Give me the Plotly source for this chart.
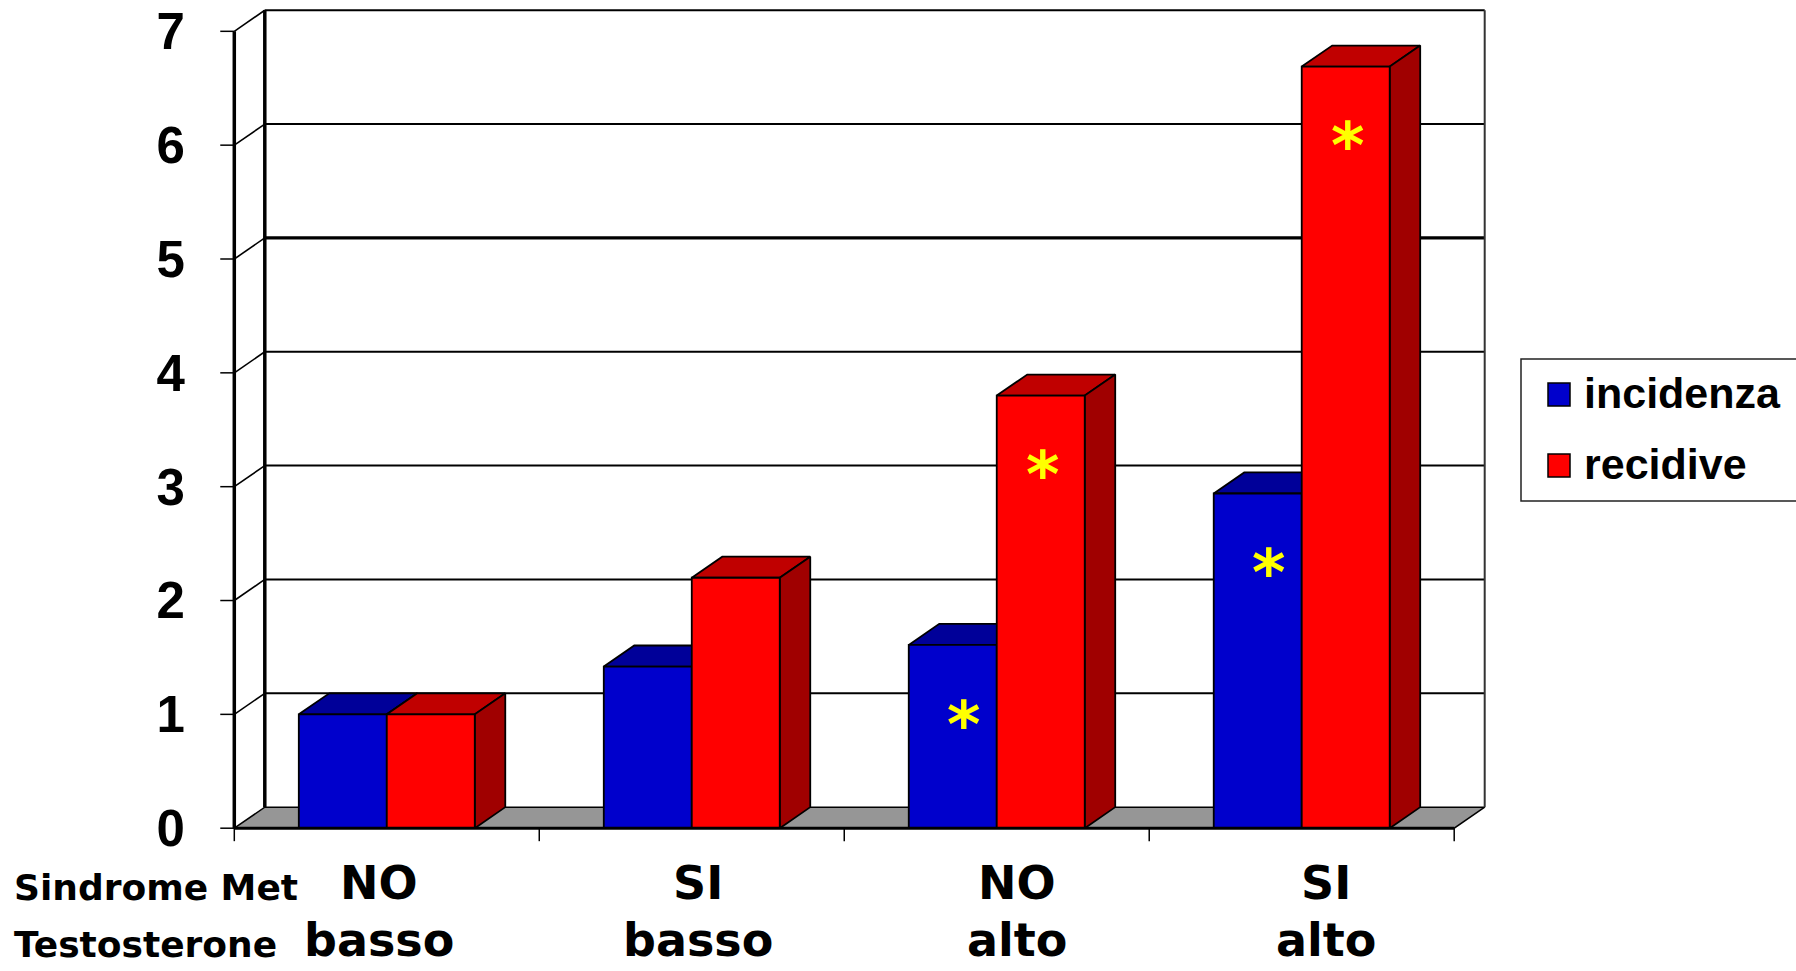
import plotly.graph_objects as go

# ---- data -------------------------------------------------------------
sindrome_met = ["NO", "SI", "NO", "SI"]
testosterone = ["basso", "basso", "alto", "alto"]
incidenza = [1.0, 1.42, 1.61, 2.94]
recidive = [1.0, 2.2, 3.8, 6.69]
sig_incidenza = [False, False, True, True]
sig_recidive = [False, False, True, True]
y_ticks = [0, 1, 2, 3, 4, 5, 6, 7]
series_names = ["incidenza", "recidive"]

# ---- geometry / style -------------------------------------------------
W, H = 1796, 971
L, R, T, B = 216, 293, 4, 128
PW, PH = W - L - R, H - T - B
X_RANGE = [-0.06, 4.16]
Y_RANGE = [-0.13, 7.24]
DX, DY = 0.1, 0.185          # depth of the 3D box in axis units
BAR_W = 0.2885               # width of one bar (category = 1)
TICK_X = 0.046
TICK_Y = 0.114

FRONT = ["#0000CC", "#FF0000"]
TOP = ["#000099", "#C00000"]
SIDE = ["#000080", "#A00000"]
FLOOR = "#969696"
LABEL_XSHIFT = [-8, 6, 20, 24]
STAR_XSHIFT = [11, 2]


def xp(px):
    return (px - L) / PW


def yp(py):
    return (H - B - py) / PH


fig = go.Figure()


def line(xs, ys, width=2, color="black"):
    fig.add_trace(go.Scatter(x=xs, y=ys, mode="lines",
                             line=dict(color=color, width=width),
                             hoverinfo="skip", showlegend=False))


def poly(xs, ys, fill, width=1.8):
    fig.add_trace(go.Scatter(x=xs + [xs[0]], y=ys + [ys[0]], mode="lines",
                             fill="toself", fillcolor=fill,
                             line=dict(color="black", width=width),
                             hoverinfo="skip", showlegend=False))


n = len(sindrome_met)
top_v = y_ticks[-1]

# floor
poly([0, n, n + DX, DX], [0, 0, DY, DY], FLOOR, width=1.5)

# back wall grid lines and side-wall diagonals
for v in y_ticks[1:]:
    line([DX, n + DX], [v + DY, v + DY], width=3.2 if v == 5 else 2)
    line([0, DX], [v, v + DY], width=1.6)
# back wall edges
line([DX, DX], [DY, top_v + DY], width=3.5)
line([n + DX, n + DX], [DY, top_v + DY], width=2, color="#333333")

# y tick marks
for v in y_ticks:
    line([-TICK_X, 0], [v, v], width=1.5)

# 3D bars
for i in range(n):
    c = i + 0.5
    for s, vals in enumerate([incidenza, recidive]):
        v = vals[i]
        x0 = c - BAR_W + s * BAR_W
        x1 = x0 + BAR_W
        poly([x0, x1, x1 + DX, x0 + DX], [v, v, v + DY, v + DY], TOP[s])
        poly([x1, x1 + DX, x1 + DX, x1], [0, DY, v + DY, v], SIDE[s])
        poly([x0, x1, x1, x0], [0, 0, v, v], FRONT[s])

# front axes
line([0, 0], [0, top_v], width=3.5)
line([0, n], [0, 0], width=3)
for i in range(n + 1):
    line([i, i], [0, -TICK_Y], width=1.5)

annotations = []

# significance stars
for i in range(n):
    c = i + 0.5
    for s, (vals, sig) in enumerate([(incidenza, sig_incidenza), (recidive, sig_recidive)]):
        if sig[i]:
            annotations.append(dict(
                x=c - BAR_W / 2 + s * BAR_W, y=vals[i] - 0.62, xref="x", yref="y",
                text="*", showarrow=False, xshift=STAR_XSHIFT[s], yshift=-9,
                font=dict(family="DejaVu Sans", size=64, color="#FFFF00", weight="bold"),
                xanchor="center", yanchor="middle"))

# category labels
cat_font = dict(family="DejaVu Sans", size=46, color="black", weight="bold")
for i in range(n):
    for text, cy in [(sindrome_met[i], 883), (testosterone[i], 940)]:
        annotations.append(dict(
            x=i + 0.5, y=yp(cy), xref="x", yref="paper", text=text,
            showarrow=False, xshift=LABEL_XSHIFT[i], font=cat_font,
            xanchor="center", yanchor="middle"))

row_font = dict(family="DejaVu Sans", size=36, color="black", weight="bold")
annotations.append(dict(x=xp(12), y=yp(887), xref="paper", yref="paper",
                        text="Sindrome Met", showarrow=False, font=row_font,
                        xanchor="left", yanchor="middle"))
annotations.append(dict(x=xp(12), y=yp(945), xref="paper", yref="paper",
                        text="Testosterone", showarrow=False, font=row_font,
                        xanchor="left", yanchor="middle"))

# legend
shapes = [dict(type="rect", xref="paper", yref="paper",
               x0=xp(1521), x1=xp(1810), y0=yp(501), y1=yp(359),
               line=dict(color="#222222", width=1.5), fillcolor="white")]
leg_font = dict(family="Liberation Sans", size=43, color="black", weight="bold")
for s, (name, ytop) in enumerate(zip(series_names, [383, 454])):
    shapes.append(dict(type="rect", xref="paper", yref="paper",
                       x0=xp(1548), x1=xp(1570), y0=yp(ytop + 23), y1=yp(ytop),
                       line=dict(color="black", width=1.5), fillcolor=FRONT[s]))
    annotations.append(dict(x=xp(1582), y=yp(ytop + 10), xref="paper", yref="paper",
                            text=name, showarrow=False, font=leg_font,
                            xanchor="left", yanchor="middle"))

fig.update_layout(
    width=W, height=H,
    margin=dict(l=L, r=R, t=T, b=B, pad=0),
    paper_bgcolor="white", plot_bgcolor="white",
    showlegend=False,
    xaxis=dict(range=X_RANGE, showgrid=False, zeroline=False, showline=False,
               showticklabels=False, ticks=""),
    yaxis=dict(range=Y_RANGE, showgrid=False, zeroline=False, showline=False,
               tickmode="array", tickvals=y_ticks, ticktext=[str(v) for v in y_ticks],
               ticks="outside", ticklen=20, tickcolor="rgba(0,0,0,0)",
               tickfont=dict(family="Liberation Sans", size=51, color="black", weight="bold")),
    annotations=annotations,
    shapes=shapes,
)

fig.write_html("out.html")
